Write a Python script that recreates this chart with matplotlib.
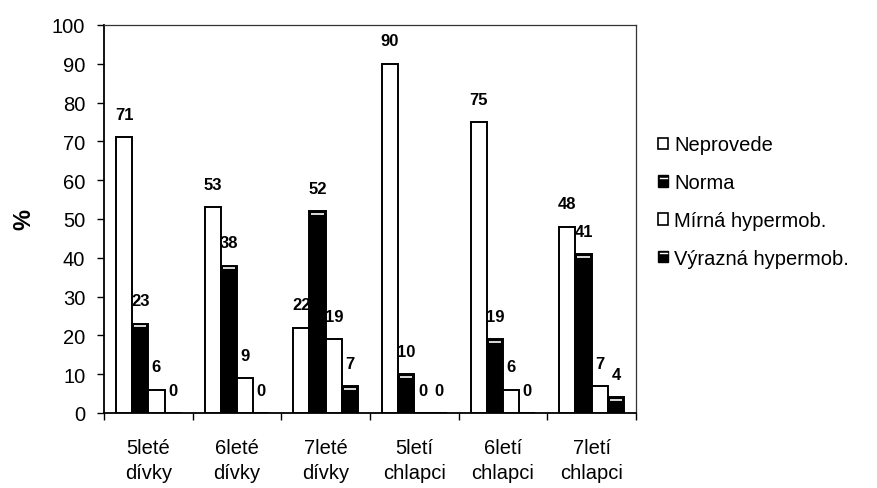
import matplotlib
matplotlib.use("Agg")
import matplotlib.pyplot as plt
from matplotlib.patches import Patch, Rectangle
from matplotlib.lines import Line2D
from matplotlib.legend_handler import HandlerBase

plt.rcParams['font.family'] = ['Liberation Sans', 'DejaVu Sans']

categories = ["5leté\ndívky", "6leté\ndívky", "7leté\ndívky",
              "5letí\nchlapci", "6letí\nchlapci", "7letí\nchlapci"]
series_names = ["Neprovede", "Norma", "Mírná hypermob.", "Výrazná hypermob."]
neprovede = [71, 53, 22, 90, 75, 48]
norma = [23, 38, 52, 10, 19, 41]
mirna = [6, 9, 19, 0, 6, 7]
vyrazna = [0, 0, 7, 0, 0, 4]
y_ticks = [0, 10, 20, 30, 40, 50, 60, 70, 80, 90, 100]

series = [neprovede, norma, mirna, vyrazna]
fills = ["white", "black", "white", "black"]

fig = plt.figure(figsize=(8.78, 4.89), dpi=100)
ax = fig.add_axes([0.1185, 0.1534, 0.6059, 0.7935])

w = 0.183
offsets = [-1.5, -0.5, 0.5, 1.5]
for vals, fc, off in zip(series, fills, offsets):
    xs = [i + 0.5 + off * w for i in range(len(vals))]
    ax.bar(xs, vals, width=w, facecolor=fc, edgecolor="black", linewidth=1.4,
           zorder=3)
    for x, v in zip(xs, vals):
        if fc == "black" and v > 1.5:
            ax.plot([x - w * 0.38, x + w * 0.38], [v - 0.7, v - 0.7],
                    color="white", linewidth=1.2, zorder=4,
                    solid_capstyle="butt")
        ax.annotate(f"{v}", (x, v), xytext=(0, 11), textcoords="offset points",
                    ha="center", va="bottom", fontsize=12, fontweight="bold",
                    zorder=5)

ax.set_xlim(0, 6)
ax.set_ylim(0, 100)
ax.set_yticks(y_ticks)
ax.set_yticklabels([str(t) for t in y_ticks], fontsize=14.5)
ax.set_xticks(range(7))
ax.set_xticklabels([])
ax.set_xticks([i + 0.5 for i in range(6)], minor=True)
ax.set_xticklabels(categories, minor=True, fontsize=14.5, linespacing=1.4)
ax.tick_params(axis="x", which="minor", length=0, pad=18)
ax.tick_params(axis="x", which="major", length=5, width=1, direction="out")
ax.tick_params(axis="y", length=5, width=1, direction="out", pad=8.5)
for s in ["left", "bottom"]:
    ax.spines[s].set_linewidth(1.3)
for s in ["top", "right"]:
    ax.spines[s].set_linewidth(0.9)
    ax.spines[s].set_color("#333333")

ax.set_ylabel("%", fontsize=17, fontweight="bold", labelpad=12)


class BlackWithLine(HandlerBase):
    def create_artists(self, legend, orig_handle, xdescent, ydescent,
                       width, height, fontsize, trans):
        r = Rectangle((-xdescent, -ydescent), width, height, facecolor="black",
                      edgecolor="black", linewidth=1, transform=trans)
        y = -ydescent + height * 0.78
        ln = Line2D([-xdescent + width * 0.15, -xdescent + width * 0.85],
                    [y, y], color="white", linewidth=1, transform=trans)
        return [r, ln]


handles = []
handler_map = {}
for name, fc in zip(series_names, fills):
    p = Patch(facecolor=fc, edgecolor="black", linewidth=1.2, label=name)
    handles.append(p)
    if fc == "black":
        handler_map[p] = BlackWithLine()

fig.legend(handles=handles, labels=series_names, loc="upper left",
           bbox_to_anchor=(0.7289, 0.758), frameon=False, fontsize=14.5,
           handlelength=0.5, handleheight=0.5, handletextpad=0.3,
           labelspacing=0.93, handler_map=handler_map)

fig.savefig("out.png", dpi=100)
